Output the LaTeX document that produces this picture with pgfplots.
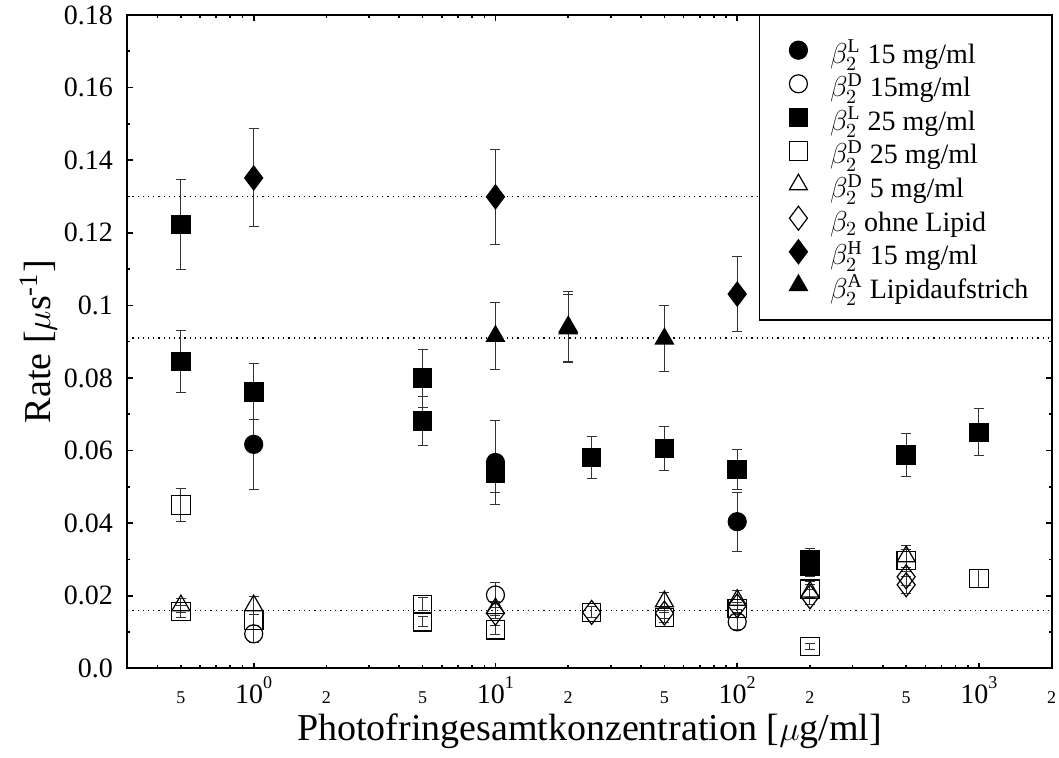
\documentclass[border=0pt]{standalone}
\usepackage{pgfplots}
\pgfplotsset{compat=1.18}
\usepackage{fontspec}
\setmainfont{Liberation Serif}
\pgfplotsset{
  eb/.style={error bars/y dir=both, error bars/y explicit,
    error bars/error bar style={line width=0.5pt, black!80},
    error bars/error mark options={rotate=90, mark size=2.5pt, line width=0.5pt, black!80}},
  fm/.style={only marks, black, line width=0.6pt, mark options={solid, fill=black}},
  om/.style={only marks, black, line width=0.6pt, mark options={solid}},
}
\newcommand{\dec}[1]{\fontsize{14}{16}\selectfont\rule{0pt}{14.2pt}10\raisebox{7.5pt}{\fontsize{9}{9}\selectfont #1}}
\newcommand{\sml}[1]{\fontsize{9}{9}\selectfont\rule{0pt}{14.2pt}#1}
\begin{document}
\begin{tikzpicture}
\useasboundingbox (-63.65pt,-44.85pt) rectangle (465.85pt,334.15pt);
\begin{axis}[
  at={(0pt,0pt)}, anchor=south west,
  scale only axis, width=462.2pt, height=326.65pt,
  xmode=log, xmin=0.3, xmax=2000, ymin=0, ymax=0.18,
  axis line style={line width=0.8pt},
  every tick/.style={line width=0.8pt, black},
  tick align=inside,
  major tick length=2.8pt, minor tick length=1.4pt,
  xtick={1,10,100,1000},
  xticklabels={\dec{0},\dec{1},\dec{2},\dec{3}},
  minor xtick={0.4,0.6,0.7,0.8,0.9,3,4,6,7,8,9,30,40,60,70,80,90,300,400,600,700,800,900},
  extra x ticks={0.5,2,5,20,50,200,500,2000},
  extra x tick labels={\sml{5},\sml{2},\sml{5},\sml{2},\sml{5},\sml{2},\sml{5},\sml{2}},
  extra x tick style={major tick length=1.4pt},
  ytick={0,0.02,0.04,0.06,0.08,0.1,0.12,0.14,0.16,0.18},
  yticklabels={0.0,0.02,0.04,0.06,0.08,0.1,0.12,0.14,0.16,0.18},
  minor y tick num=1,
  yticklabel style={anchor=east, inner sep=0pt, xshift=-7pt, font=\fontsize{14}{16}\selectfont},
  xlabel={Photofringesamtkonzentration [$\mu$g/ml]},
  ylabel={Rate [$\mu$s\textsuperscript{-1}]},
  label style={font=\fontsize{19}{22}\selectfont},
  xlabel style={at={(axis description cs:0.5,0)}, anchor=base, yshift=-35.9pt},
  ylabel style={at={(axis description cs:-0.0836,0.5)}, anchor=base},
  legend cell align=left,
  legend image code/.code={\path[draw=none, fill=none] (-8pt,-1pt) rectangle (8pt,1pt); \draw[#1] plot coordinates {(0pt,0pt)};},
  legend style={at={(1,1)}, anchor=north east, draw=black, line width=0.6pt,
    inner xsep=11.35pt, inner ysep=8.9pt, column sep=7.85pt, row sep=0pt,
    font=\fontsize{14}{16.8}\selectfont,
    nodes={inner sep=0pt, text height=14.9pt, text depth=1.9pt}},
]
\addplot[dotted, black, line width=0.6pt, forget plot] coordinates {(0.3,0.13) (2000,0.13)};
\addplot[dotted, black, line width=0.6pt, forget plot] coordinates {(0.3,0.091) (2000,0.091)};
\addplot[dotted, black, line width=0.6pt, forget plot] coordinates {(0.3,0.016) (2000,0.016)};

% beta2 L 15 mg/ml
\addplot[fm, mark=*, mark size=4.5pt, eb] table[x=x, y=y, y error=e] {
x y e
1 0.0617 0.0124
10 0.0567 0.0115
100 0.0404 0.0081
};
\addlegendentry{$\beta_2^{\mathrm{L}}$ 15 mg/ml}
% beta2 D 15 mg/ml
\addplot[om, mark=o, mark size=4.5pt, eb] table[x=x, y=y, y error=e] {
x y e
1 0.0095 0.0023
10 0.0202 0.0035
100 0.0128 0.0020
};
\addlegendentry{$\beta_2^{\mathrm{D}}$ 15mg/ml}
% beta2 L 25 mg/ml
\addplot[fm, mark=square*, mark size=4.6pt, eb] table[x=x, y=y, y error=e] {
x y e
0.5 0.1223 0.0123
0.5 0.0845 0.0085
1 0.0762 0.0077
5 0.0799 0.0080
5 0.0681 0.0068
10 0.0537 0.0053
25 0.0581 0.0058
50 0.0606 0.0060
100 0.0548 0.0055
200 0.0300 0.0030
200 0.0280 0.0028
500 0.0587 0.0059
1000 0.0650 0.0065
};
\addlegendentry{$\beta_2^{\mathrm{L}}$ 25 mg/ml}
% beta2 D 25 mg/ml
\addplot[om, mark=square, mark size=4.6pt, eb] table[x=x, y=y, y error=e] {
x y e
0.5 0.0450 0.0045
0.5 0.0156 0.0016
1 0.0133 0.0014
5 0.0176 0.0018
5 0.0128 0.0014
10 0.0106 0.0012
25 0.0154 0.0015
50 0.0140 0.0014
100 0.0165 0.0017
200 0.0218 0.0022
200 0.0060 0.0007
500 0.0297 0.0030
1000 0.0247 0.0025
};
\addlegendentry{$\beta_2^{\mathrm{D}}$ 25 mg/ml}
% beta2 D 5 mg/ml
\addplot[om, mark=triangle, mark size=5.2pt, eb] table[x=x, y=y, y error=e] {
x y e
0.5 0.0173 0.0020
1 0.0173 0.0025
10 0.0165 0.0020
50 0.0184 0.0025
100 0.0188 0.0025
200 0.0211 0.0020
500 0.0308 0.0030
};
\addlegendentry{$\beta_2^{\mathrm{D}}$ 5 mg/ml}
% beta2 ohne Lipid
\addplot[om, mark=diamond, mark size=6pt, eb] table[x=x, y=y, y error=e] {
x y e
10 0.0152 0.0015
25 0.0154 0.0015
50 0.0152 0.0015
100 0.0172 0.0017
200 0.0197 0.0020
500 0.0252 0.0025
500 0.0230 0.0023
};
\addlegendentry{$\beta_2$ ohne Lipid}
% beta2 H 15 mg/ml
\addplot[fm, mark=diamond*, mark size=6pt, eb] table[x=x, y=y, y error=e] {
x y e
1 0.1351 0.0135
10 0.1299 0.0130
100 0.1031 0.0103
};
\addlegendentry{$\beta_2^{\mathrm{H}}$ 15 mg/ml}
% beta2 A Lipidaufstrich
\addplot[fm, mark=triangle*, mark size=5.2pt, eb] table[x=x, y=y, y error=e] {
x y e
10 0.0915 0.0092
20 0.0941 0.0097
20 0.0936 0.0094
50 0.0908 0.0091
};
\addlegendentry{$\beta_2^{\mathrm{A}}$ Lipidaufstrich}
\end{axis}
\end{tikzpicture}
\end{document}
